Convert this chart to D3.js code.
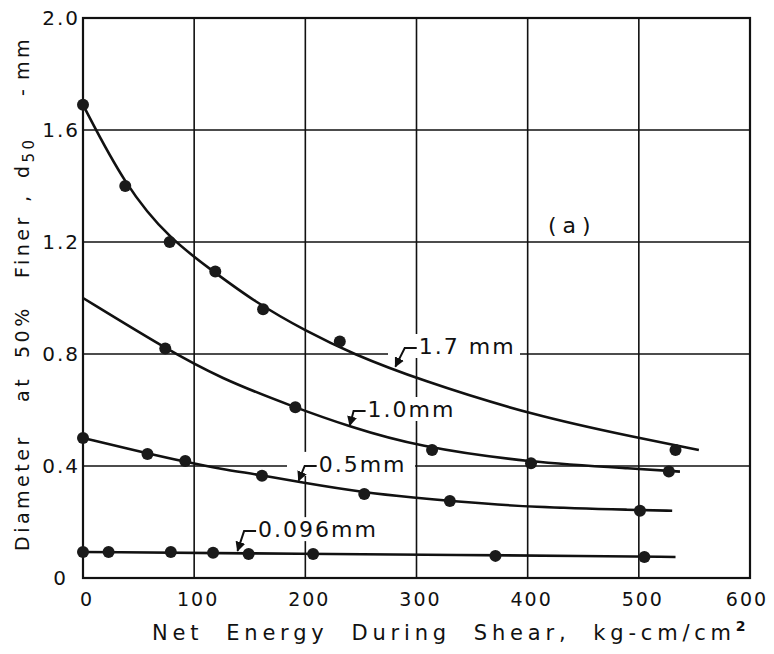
<!DOCTYPE html>
<html>
<head>
<meta charset="utf-8">
<script src="https://cdn.jsdelivr.net/npm/d3@7"></script>
<style>
  body { margin: 0; background: #fff; }
  text { font-family: "DejaVu Sans", sans-serif; fill: #111; }
</style>
</head>
<body>
<div id="chart"></div>
<script>
// measured points, one pair of arrays per initial size
var energy17 = [0, 38, 78, 119, 162, 231, 533];
var d17 = [1.69, 1.40, 1.20, 1.095, 0.96, 0.845, 0.457];
var energy10 = [74, 191, 314, 403, 527];
var d10 = [0.82, 0.61, 0.457, 0.41, 0.38];
var energy05 = [0, 58, 92, 161, 253, 330, 501];
var d05 = [0.50, 0.443, 0.418, 0.365, 0.30, 0.275, 0.24];
var energy0096 = [0, 23, 79, 117, 149, 207, 371, 505];
var d0096 = [0.093, 0.093, 0.093, 0.09, 0.086, 0.086, 0.079, 0.075];

// fitted curves as drawn on the figure
var fitX17 = [0, 38, 78, 119, 153, 201, 243, 301, 405, 500, 554];
var fitY17 = [1.69, 1.40, 1.21, 1.09, 0.99, 0.88, 0.80, 0.71, 0.58, 0.50, 0.457];
var fitX10 = [0, 74, 123, 190, 240, 300, 402, 500, 537];
var fitY10 = [1.0, 0.82, 0.714, 0.61, 0.54, 0.47, 0.412, 0.39, 0.38];
var fitX05 = [0, 58, 92, 123, 161, 195, 253, 300, 330, 405, 500, 530];
var fitY05 = [0.50, 0.445, 0.415, 0.39, 0.367, 0.342, 0.305, 0.286, 0.275, 0.252, 0.243, 0.24];
var fitX0096 = [0, 207, 340, 450, 533];
var fitY0096 = [0.093, 0.086, 0.082, 0.079, 0.075];

var curveNames = ["1.7 mm", "1.0mm", "0.5mm", "0.096mm"];
var xTicks = [0, 100, 200, 300, 400, 500, 600];
var yTicks = [0, 0.4, 0.8, 1.2, 1.6, 2.0];
var yTickLabels = ["0", "0.4", "0.8", "1.2", "1.6", "2.0"];

var width = 774, height = 654;
var margin = {left: 83, right: 750, top: 18, bottom: 578};

var svg = d3.select("#chart").append("svg")
    .attr("width", width)
    .attr("height", height);

svg.append("rect").attr("width", width).attr("height", height).attr("fill", "#fff");

var x = d3.scaleLinear().domain([0, 600]).range([margin.left, margin.right]);
var y = d3.scaleLinear().domain([0, 2]).range([margin.bottom, margin.top]);

// grid
svg.append("g")
    .selectAll("line")
    .data(xTicks.slice(1, -1))
    .enter().append("line")
    .attr("x1", function(d) { return x(d); })
    .attr("x2", function(d) { return x(d); })
    .attr("y1", margin.top).attr("y2", margin.bottom)
    .attr("stroke", "#111").attr("stroke-width", 1.6);

svg.append("g")
    .selectAll("line")
    .data(yTicks.slice(1, -1))
    .enter().append("line")
    .attr("y1", function(d) { return y(d); })
    .attr("y2", function(d) { return y(d); })
    .attr("x1", margin.left).attr("x2", margin.right)
    .attr("stroke", "#111").attr("stroke-width", 1.6);

svg.append("rect")
    .attr("x", margin.left).attr("y", margin.top)
    .attr("width", margin.right - margin.left).attr("height", margin.bottom - margin.top)
    .attr("fill", "none").attr("stroke", "#111").attr("stroke-width", 2.2);

// tick labels
svg.append("g")
    .selectAll("text")
    .data(xTicks)
    .enter().append("text")
    .attr("x", function(d) { return x(d) + (d === 600 ? -3 : 4); })
    .attr("y", 606)
    .attr("text-anchor", "middle")
    .style("font-size", "19px")
    .style("letter-spacing", "2px")
    .text(function(d) { return d; });

svg.append("g")
    .selectAll("text")
    .data(yTicks)
    .enter().append("text")
    .attr("x", function(d) { return d === 0 ? 68 : 80; })
    .attr("y", function(d) { return y(d) + 7; })
    .attr("text-anchor", "end")
    .style("font-size", "20px")
    .style("letter-spacing", "2px")
    .text(function(d, i) { return yTickLabels[i]; });

// axis titles
svg.append("text")
    .attr("x", 152)
    .attr("y", 640)
    .style("font-size", "21px")
    .style("letter-spacing", "4.8px")
    .attr("xml:space", "preserve")
    .text("Net  Energy  During  Shear,  kg-cm/cm")
    .append("tspan")
    .attr("dy", -9)
    .style("font-size", "14px")
    .style("font-weight", "bold")
    .text("2");

var yt = svg.append("text")
    .attr("transform", "rotate(-90)")
    .attr("y", 29)
    .style("font-size", "19px")
    .style("letter-spacing", "3.5px");
yt.append("tspan").attr("x", -551).text("Diameter");
yt.append("tspan").attr("x", -402).text("at");
yt.append("tspan").attr("x", -358).text("50%");
yt.append("tspan").attr("x", -278).text("Finer");
yt.append("tspan").attr("x", -202).text(",");
yt.append("tspan").attr("x", -178).text("d");
yt.append("tspan").attr("dy", 5).style("font-size", "15px").text("50");
yt.append("tspan").attr("x", -96).attr("dy", -5).text("-");
yt.append("tspan").attr("x", -80).text("mm");

// curves and points
var series = [
    {fx: fitX17, fy: fitY17, px: energy17, py: d17},
    {fx: fitX10, fy: fitY10, px: energy10, py: d10},
    {fx: fitX05, fy: fitY05, px: energy05, py: d05},
    {fx: fitX0096, fy: fitY0096, px: energy0096, py: d0096}
];

var line = d3.line()
    .x(function(d) { return x(d[0]); })
    .y(function(d) { return y(d[1]); })
    .curve(d3.curveBasis);

// curve labels with leader arrows (text start, baseline, arrow tip in data units)
var labelPos = [
    {tx: 302, ty: 0.80, ax: 281, ay: 0.755, bx: 388, bw: 132},
    {tx: 256, ty: 0.575, ax: 240, ay: 0.545, bx: 360, bw: 100},
    {tx: 212, ty: 0.379, ax: 194, ay: 0.348, bx: 287, bw: 128},
    {tx: 157.5, ty: 0.146, ax: 139, ay: 0.097, bx: 250, bw: 145}
];

labelPos.forEach(function(p) {
    svg.append("rect")
        .attr("x", p.bx).attr("y", y(p.ty) - 20)
        .attr("width", p.bw).attr("height", 24)
        .attr("fill", "#fff");
});

series.forEach(function(s) {
    svg.append("path")
        .datum(d3.zip(s.fx, s.fy))
        .attr("d", line)
        .attr("fill", "none")
        .attr("stroke", "#111")
        .attr("stroke-width", 2.6);
    svg.append("g")
        .selectAll("circle")
        .data(d3.zip(s.px, s.py))
        .enter().append("circle")
        .attr("cx", function(d) { return x(d[0]); })
        .attr("cy", function(d) { return y(d[1]); })
        .attr("r", 6)
        .attr("fill", "#1a1a1a");
});

svg.append("defs").append("marker")
    .attr("id", "arrow")
    .attr("viewBox", "0 0 10 10")
    .attr("refX", 9).attr("refY", 5)
    .attr("markerWidth", 5).attr("markerHeight", 5)
    .attr("orient", "auto")
    .append("path")
    .attr("d", "M0,0L10,5L0,10z")
    .attr("fill", "#111");

labelPos.forEach(function(p, i) {
    var tx = x(p.tx), ty = y(p.ty);
    svg.append("text")
        .attr("x", tx).attr("y", ty)
        .style("font-size", "22px")
        .style("letter-spacing", "2px")
        .attr("xml:space", "preserve")
        .text(curveNames[i]);
    svg.append("path")
        .attr("d", "M" + (tx - 2) + "," + (ty - 6) + "L" + (tx - 14) + "," + (ty - 6) +
            "L" + x(p.ax) + "," + y(p.ay))
        .attr("fill", "none")
        .attr("stroke", "#111")
        .attr("stroke-width", 2)
        .attr("marker-end", "url(#arrow)");
});

svg.append("text")
    .attr("x", 548).attr("y", 233)
    .style("font-size", "22px")
    .style("letter-spacing", "6px")
    .text("(a)");
</script>
</body>
</html>
